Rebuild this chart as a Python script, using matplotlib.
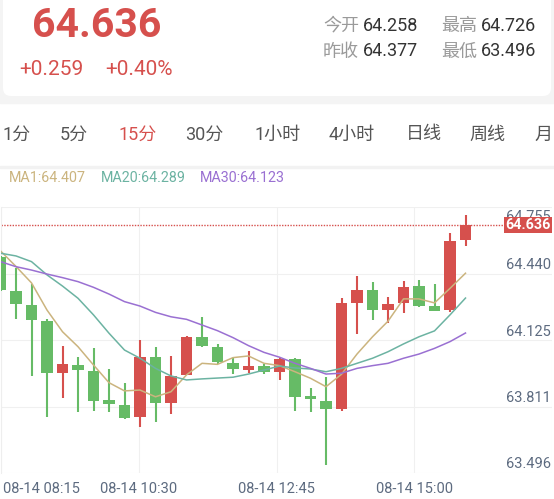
import numpy as np
import matplotlib.pyplot as plt
from matplotlib.patches import Rectangle, FancyBboxPatch

plt.rcParams['font.family'] = ['Roboto', 'Noto Sans CJK SC', 'DejaVu Sans']

# 15 min candles, 08-14 08:15 .. 15:45
opens = [64.485, 64.324, 64.256, 64.181, 63.932, 63.971, 63.943, 63.805, 63.781, 63.723,
         64.010, 63.792, 63.924, 64.105, 64.058, 63.982, 63.947, 63.966, 63.936, 64.000,
         63.824, 63.801, 63.761, 64.267, 64.327, 64.232, 64.264, 64.348, 64.251, 64.232, 64.565]
closes = [64.327, 64.261, 64.185, 63.932, 63.976, 63.947, 63.800, 63.784, 63.721, 64.010,
          63.792, 63.919, 64.105, 64.061, 63.984, 63.952, 63.966, 63.936, 64.000, 63.818,
          63.808, 63.762, 64.264, 64.327, 64.232, 64.259, 64.343, 64.253, 64.229, 64.561, 64.636]
highs = [64.490, 64.430, 64.354, 64.190, 64.061, 64.008, 64.053, 63.951, 63.884, 64.090,
         64.058, 64.015, 64.108, 64.198, 64.069, 64.003, 64.038, 63.974, 64.003, 64.003,
         63.860, 63.913, 64.288, 64.395, 64.367, 64.295, 64.371, 64.375, 64.356, 64.599, 64.684]
lows = [64.322, 64.190, 63.919, 63.725, 63.813, 63.746, 63.753, 63.746, 63.715, 63.678,
        63.702, 63.737, 63.922, 64.058, 63.976, 63.928, 63.932, 63.928, 63.900, 63.754,
        63.749, 63.496, 63.754, 64.118, 64.185, 64.169, 64.219, 64.248, 64.227, 64.224, 64.536]

ma1 = [64.513, 64.439, 64.361, 64.232, 64.129, 64.058, 63.971, 63.887, 63.848, 63.852,
       63.820, 63.844, 63.924, 63.979, 63.974, 64.006, 64.014, 63.979, 63.968, 63.939,
       63.908, 63.868, 63.927, 64.023, 64.105, 64.179, 64.285, 64.285, 64.266, 64.335, 64.407]
ma20 = [64.502, 64.489, 64.462, 64.399, 64.346, 64.288, 64.209, 64.122, 64.042, 64.003,
        63.955, 63.919, 63.900, 63.905, 63.909, 63.913, 63.928, 63.947, 63.966, 63.957,
        63.952, 63.939, 63.955, 63.979, 64.003, 64.034, 64.071, 64.105, 64.133, 64.209, 64.289]
ma30 = [64.462, 64.438, 64.422, 64.403, 64.386, 64.367, 64.340, 64.308, 64.272, 64.251,
        64.221, 64.200, 64.188, 64.161, 64.134, 64.101, 64.063, 64.031, 64.008, 63.979,
        63.955, 63.928, 63.932, 63.955, 63.968, 63.979, 64.003, 64.023, 64.050, 64.082, 64.123]

last_price = 64.636
y_labels = [64.755, 64.440, 64.125, 63.811, 63.496]
x_labels = ['08-14 08:15', '08-14 10:30', '08-14 12:45', '08-14 15:00']
tabs = ['1分', '5分', '15分', '30分', '1小时', '4小时', '日线', '周线', '月']
active_tab = '15分'

RED = '#d6504d'
GREEN = '#66bb66'
C_MA1 = '#cbb47e'
C_MA20 = '#6cb3a2'
C_MA30 = '#9a70d2'
AXIS_TXT = '#5d6b80'

W, H = 554, 499
fig = plt.figure(figsize=(W / 100, H / 100), dpi=100)

def fx(px):
    return px / W

def fy(py):
    return 1 - py / H

# header card on a light gray band
fig.patches.append(Rectangle((0, fy(103)), 1, 103 / H, transform=fig.transFigure,
                             color='#f4f4f4', zorder=0))
fig.patches.append(FancyBboxPatch((0.03, (H - 96) / 100), 5.48, 1.2,
                                  boxstyle='round,pad=0,rounding_size=0.08',
                                  transform=fig.dpi_scale_trans, fc='white', ec='none', zorder=0))

fig.text(fx(32), fy(37), '64.636', color=RED, fontsize=29.5, fontweight='bold', va='baseline')
fig.text(fx(19), fy(75), '+0.259', color=RED, fontsize=15, va='baseline')
fig.text(fx(105), fy(75), '+0.40%', color=RED, fontsize=15, va='baseline')

stats = [('今开', '64.258'), ('最高', '64.726'), ('昨收', '64.377'), ('最低', '63.496')]
for k, (lab, val) in enumerate(stats):
    col, row = k % 2, k // 2
    x0 = 323 + col * 118
    yb = 31 + row * 25.5
    fig.text(fx(x0), fy(yb), lab, color='#9a9a9a', fontsize=13, va='baseline')
    fig.text(fx(x0 + 40), fy(yb), val, color='#333333', fontsize=13, va='baseline')

# period tabs
tab_x = [2, 60, 118, 185, 254, 329, 406, 469, 534]
for t, x0 in zip(tabs, tab_x):
    fig.text(fx(x0), fy(139.5), t, fontsize=13, va='baseline',
             color=RED if t == active_tab else '#555555')
fig.patches.append(Rectangle((0, fy(168)), 1, 2 / H, transform=fig.transFigure,
                             color='#f2f2f2', zorder=0))

# MA legend
legend = [('MA1', ma1[-1], C_MA1, 9), ('MA20', ma20[-1], C_MA20, 101), ('MA30', ma30[-1], C_MA30, 200)]
for name, val, col, x0 in legend:
    fig.text(fx(x0), fy(182), f'{name}:{val:.3f}', color=col, fontsize=10.3, va='baseline')

# price chart
ax = fig.add_axes([fx(1), fy(473), fx(551), (473 - 207) / H])
ax.set_facecolor('none')
idx = np.arange(len(opens))
o, c, h, l = map(np.array, (opens, closes, highs, lows))
up = c >= o
colors = np.where(up, RED, GREEN)

ax.vlines(idx, l, h, colors=colors, linewidth=1.5, zorder=3)
ax.bar(idx, np.maximum(np.abs(c - o), 0.002), bottom=np.minimum(o, c), width=0.77,
       color=colors, zorder=3)

ax.plot(idx, ma1, color=C_MA1, lw=1.1, zorder=4)
ax.plot(idx, ma20, color=C_MA20, lw=1.1, zorder=4)
ax.plot(idx, ma30, color=C_MA30, lw=1.1, zorder=4)

px_per_bar = 15.5
x0_lim = 0.5 / px_per_bar
x1_lim = x0_lim + 551 / px_per_bar
ax.set_xlim(x0_lim, x1_lim)
unit = 0.00475
ylo = last_price - 248 * unit
yhi = last_price + 18 * unit
ax.set_ylim(ylo, yhi)

ax.set_xticks(np.linspace(x0_lim, x1_lim, 5))
ax.set_yticks(np.linspace(ylo, yhi, 5))
ax.grid(True, color='#f0f0f0', lw=0.8, zorder=0)
ax.tick_params(length=0, labelleft=False, labelbottom=False)
for s in ['top', 'right', 'bottom']:
    ax.spines[s].set_visible(False)
ax.spines['left'].set_color('#eeeeee')

ax.axhline(last_price, color=RED, lw=1, ls=(0, (1, 1)), zorder=2)

for v in y_labels:
    yv = min(v, yhi - 11 * unit)
    ax.annotate(f'{v:.3f}', xy=(0.998, yv), xycoords=('axes fraction', 'data'),
                xytext=(0, -2.2), textcoords='offset points', ha='right', va='baseline',
                color=AXIS_TXT, fontsize=10.5, annotation_clip=False, zorder=5)

ax.annotate(f'{last_price:.3f}', xy=(0.998, last_price), xycoords=('axes fraction', 'data'),
            ha='right', va='center', color='white', fontsize=10.3, fontweight='bold',
            bbox=dict(boxstyle='square,pad=0.08', fc=RED, ec='none'),
            annotation_clip=False, zorder=6)

for k, lab in enumerate(x_labels):
    ax.annotate(lab, xy=(k / 4 if k else 0.004, 0), xycoords='axes fraction',
                xytext=(0, -14.4), textcoords='offset points',
                ha='center' if k else 'left', va='baseline', color=AXIS_TXT, fontsize=10.5,
                annotation_clip=False)

fig.savefig('out.png', dpi=100, facecolor='white')
